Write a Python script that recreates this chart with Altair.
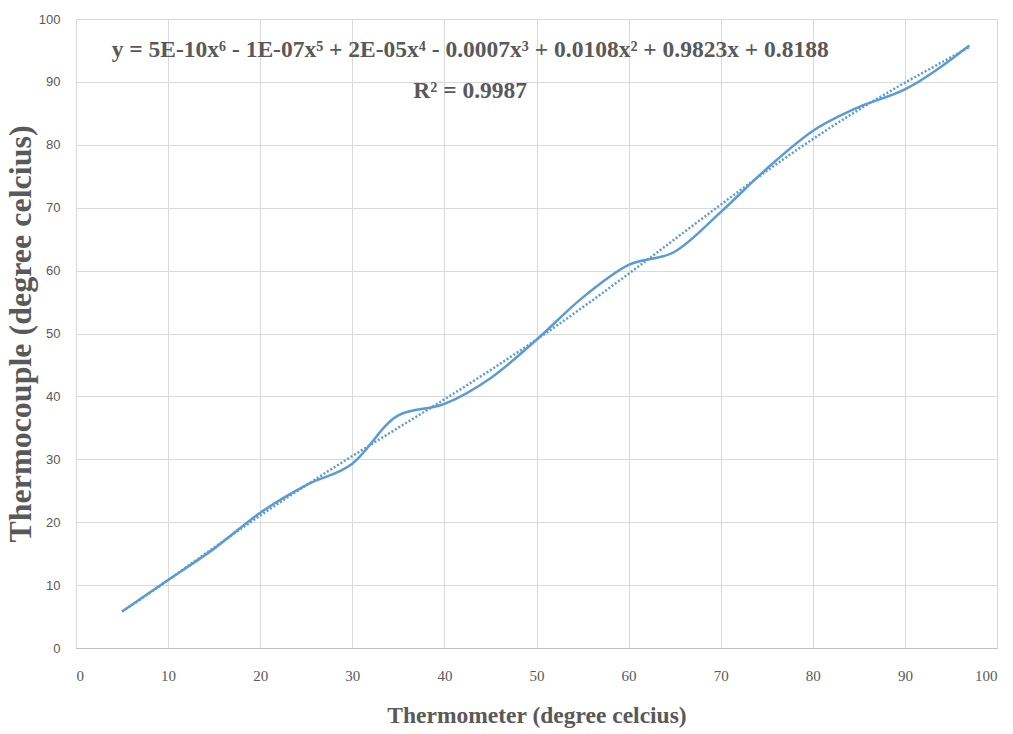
import altair as alt
import pandas as pd

thermometer = [5, 10, 15, 20, 25, 30, 35, 40, 45, 50, 55, 60, 65, 70, 75, 80, 85, 90, 97]
thermocouple = [5.8, 10.8, 15.8, 21.5, 25.9, 29.3, 37.0, 38.8, 42.9, 49.0, 55.7, 60.9, 63.0, 69.3, 76.2, 82.2, 86.0, 88.8, 95.8]

eq_lines = ["y = 5E-10x\u2076 - 1E-07x\u2075 + 2E-05x\u2074 - 0.0007x\u00b3 + 0.0108x\u00b2 + 0.9823x + 0.8188",
            "R\u00b2 = 0.9987"]
eq_x = [42.8, 42.8]
eq_y = [95.0, 88.6]

df = pd.DataFrame({"x": thermometer, "y": thermocouple})
eq = pd.DataFrame({"t": eq_lines, "x": eq_x, "y": eq_y})

BLUE = "#5B9BD5"
GRAY = "#595959"

xs = alt.Scale(domain=[0, 100], nice=False, zero=False)
ys = alt.Scale(domain=[0, 100], nice=False, zero=False)

xaxis = alt.Axis(values=list(range(0, 101, 10)), ticks=False, labelPadding=20,
                 labelFont="Liberation Sans Narrow", labelFontSize=15, labelColor=GRAY,
                 title="Thermometer (degree celcius)", titleFont="Liberation Serif",
                 titleFontSize=23.5, titleFontWeight="bold", titleColor=GRAY, titlePadding=20,
                 domainColor="#BFBFBF", gridColor="#D9D9D9")
yaxis = alt.Axis(values=list(range(0, 101, 10)), ticks=False, labelPadding=16, domain=False,
                 labelFont="Liberation Sans", labelFontSize=13, labelColor=GRAY,
                 title="Thermocouple (degree celcius)", titleFont="Liberation Serif",
                 titleFontSize=32, titleFontWeight="bold", titleColor=GRAY, titlePadding=1,
                 gridColor="#D9D9D9")

base = alt.Chart(df)

line = base.mark_line(color=BLUE, strokeWidth=2.5, interpolate="monotone").encode(
    x=alt.X("x:Q", scale=xs, axis=xaxis),
    y=alt.Y("y:Q", scale=ys, axis=yaxis),
)

trend = base.transform_regression("x", "y", method="poly", order=6).mark_line(
    color=BLUE, strokeWidth=2.5, strokeDash=[2, 2]
).encode(x=alt.X("x:Q", scale=xs), y=alt.Y("y:Q", scale=ys))

text = alt.Chart(eq).mark_text(font="Liberation Serif", fontWeight="bold", fontSize=23.5,
                               color=GRAY, align="center", baseline="middle").encode(
    x=alt.X("x:Q", scale=xs), y=alt.Y("y:Q", scale=ys), text="t:N")

chart = alt.layer(trend, line, text).properties(
    width=921, height=629,
    autosize=alt.AutoSizeParams(type="none"),
    padding={"left": 76, "top": 19, "right": 16, "bottom": 86},
).configure_view(stroke=None).configure(background="white")

chart.save("out.html", embed_options={"renderer": "svg", "actions": False})
